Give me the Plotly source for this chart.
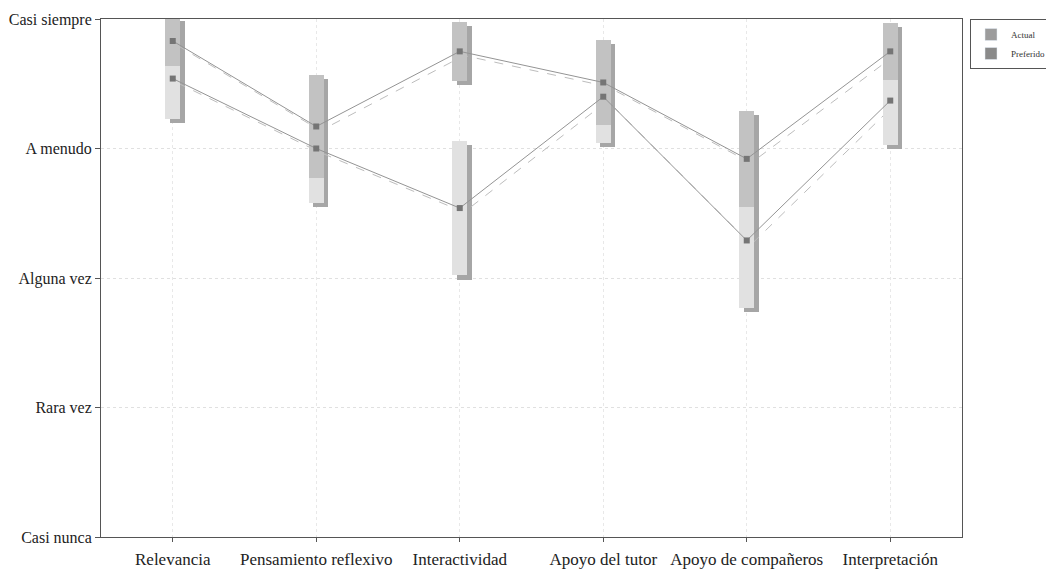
import plotly.graph_objects as go

categories = ["Relevancia", "Pensamiento reflexivo", "Interactividad",
              "Apoyo del tutor", "Apoyo de compañeros", "Interpretación"]
y_tick_values = [1, 2, 3, 4, 5]
y_tick_labels = ["Casi nunca", "Rara vez", "Alguna vez", "A menudo", "Casi siempre"]

actual_mean = [4.54, 4.00, 3.54, 4.40, 3.29, 4.37]
actual_low = [4.23, 3.58, 3.02, 4.04, 2.77, 4.03]
actual_high = [4.85, 4.42, 4.06, 4.76, 3.81, 4.71]

pref_mean = [4.83, 4.17, 4.75, 4.51, 3.92, 4.75]
pref_low = [4.64, 3.77, 4.52, 4.18, 3.55, 4.53]
pref_high = [5.02, 4.57, 4.98, 4.84, 4.29, 4.97]

series = [
    ("Actual", actual_mean, actual_low, actual_high, "#e1e1e1", "#9c9c9c"),
    ("Preferido", pref_mean, pref_low, pref_high, "#c2c2c2", "#8a8a8a"),
]

xpos = list(range(len(categories)))
fig = go.Figure()
BW = 0.105

# shadows of boxes (drawn on shifted overlay axes x2/y2)
for name, m, lo, hi, fill, leg in series:
    fig.add_trace(go.Bar(
        x=xpos, base=lo, y=[h - l for h, l in zip(hi, lo)], width=BW,
        marker=dict(color="#a6a6a6", line=dict(width=0)),
        xaxis="x2", yaxis="y2", showlegend=False, hoverinfo="skip"))

# shadow lines
for name, m, lo, hi, fill, leg in series:
    fig.add_trace(go.Scatter(
        x=xpos, y=m, mode="lines",
        line=dict(color="#bdbdbd", width=1, dash="dash"),
        xaxis="x2", yaxis="y2", showlegend=False, hoverinfo="skip"))

# boxes (overlay axes x3/y3, unshifted)
for name, m, lo, hi, fill, leg in series:
    fig.add_trace(go.Bar(
        x=xpos, base=lo, y=[h - l for h, l in zip(hi, lo)], width=BW,
        marker=dict(color=fill, line=dict(width=0)),
        xaxis="x3", yaxis="y3", showlegend=False, hoverinfo="skip"))

# mean lines and markers
for name, m, lo, hi, fill, leg in series:
    fig.add_trace(go.Scatter(
        x=xpos, y=m, mode="lines+markers",
        line=dict(color="#949494", width=1),
        marker=dict(symbol="square", size=6, color="#757575"),
        xaxis="x3", yaxis="y3", showlegend=False, hoverinfo="skip"))

# legend entries (on main axes)
for name, m, lo, hi, fill, leg in series:
    fig.add_trace(go.Bar(x=[None], y=[None], name=name,
                         marker=dict(color=leg), showlegend=True))

font_family = "Liberation Serif, DejaVu Serif, serif"
axis_common = dict(showline=True, linecolor="#555555", linewidth=1, mirror=True,
                   automargin=False, zeroline=False)

DX = 0.03
DY = 0.032
fig.update_layout(
    width=1046, height=561,
    margin=dict(l=93, r=92, t=11, b=32, autoexpand=False),
    paper_bgcolor="white", plot_bgcolor="white",
    barmode="overlay", bargap=0,
    font=dict(family=font_family, size=17, color="#222222"),
    showlegend=True,
    legend=dict(x=1.1034, y=1.0, xanchor="right", yanchor="top",
                bordercolor="#555555", borderwidth=1,
                font=dict(size=9, family=font_family, color="#333333"),
                itemwidth=30, tracegroupgap=0, bgcolor="white"),
    xaxis=dict(range=[-0.5, 5.5], tickvals=xpos, ticktext=categories,
               ticks="outside", ticklen=4, tickcolor="#555555",
               showgrid=True, gridcolor="#e8e8e8", griddash="dot", gridwidth=1,
               ticklabelstandoff=3, **axis_common),
    yaxis=dict(range=[1, 5], tickvals=y_tick_values, ticktext=y_tick_labels,
               ticks="outside", ticklen=5, tickcolor="#555555",
               showgrid=True, gridcolor="#e0e0e0", griddash="dot", gridwidth=1,
               ticklabelstandoff=0, tickfont=dict(size=16), **axis_common),
    xaxis2=dict(overlaying="x", range=[-0.5 - DX, 5.5 - DX], visible=False),
    yaxis2=dict(overlaying="y", range=[1 + DY, 5 + DY], visible=False),
    xaxis3=dict(overlaying="x", range=[-0.5, 5.5], visible=False),
    yaxis3=dict(overlaying="y", range=[1, 5], visible=False),
)

fig.write_html("out.html")
